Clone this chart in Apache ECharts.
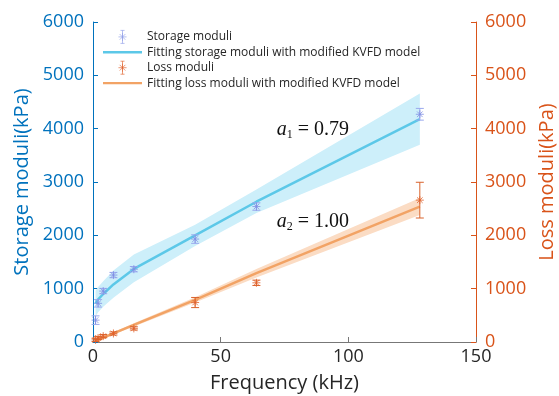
<!DOCTYPE html>
<html>
<head>
<meta charset="utf-8">
<script src="https://cdn.jsdelivr.net/npm/echarts@6/dist/echarts.min.js"></script>
<style>
  html, body { margin: 0; padding: 0; background: #fff; }
  #chart { width: 559px; height: 396px; }
</style>
</head>
<body>
<div id="chart"></div>
<script>
// measured frequencies (kHz)
const freq = [1, 2, 4, 8, 16, 40, 64, 128]
const storage = [410, 725, 955, 1255, 1365, 1930, 2540, 4270]
const storageErr = [80, 70, 50, 50, 50, 80, 70, 110]
const loss = [40, 75, 110, 160, 255, 740, 1110, 2660]
const lossErr = [30, 30, 30, 30, 30, 95, 50, 335]

// fitted curves with confidence bands
const storageFit = [725, 800, 900, 1080, 1370, 2000, 2630, 4180]
const storageUpper = [960, 1030, 1140, 1340, 1640, 2200, 2860, 4660]
const storageLower = [480, 560, 660, 830, 1120, 1800, 2420, 3700]
const lossFit = [20, 40, 80, 160, 320, 790, 1290, 2540]
const lossUpper = [40, 60, 100, 185, 350, 840, 1370, 2700]
const lossLower = [5, 20, 60, 140, 290, 740, 1210, 2380]

const xTicks = [0, 50, 100, 150]
const yTicks = [0, 1000, 2000, 3000, 4000, 5000, 6000]

const BLUE = '#0072BD'
const ORANGE = '#D95319'
const FONT = '"Open Sans", "Noto Sans", sans-serif'
const STAR = 'path://M0,5L10,5M5,0L5,10M1.5,1.5L8.5,8.5M8.5,1.5L1.5,8.5'
const STAR_BAR = 'path://M0,5L10,5M5,0L5,10M1.5,1.5L8.5,8.5M8.5,1.5L1.5,8.5M5,-3L5,13M2.5,-3L7.5,-3M2.5,13L7.5,13'
const LINE_ICON = 'path://M0,0L40,0L40,2.5L0,2.5Z'

const pairs = (xs, ys) => xs.map((x, i) => [x, ys[i]])

const bandSeries = (upper, lower, color, yAxisIndex) => ({
  type: 'custom',
  yAxisIndex,
  silent: true,
  z: 1,
  data: freq.map((f, i) => [f, lower[i], upper[i]]),
  renderItem: (params, api) => {
    if (params.dataIndex !== 0) return
    const top = freq.map((f, i) => api.coord([f, upper[i]]))
    const bottom = freq.map((f, i) => api.coord([f, lower[i]])).reverse()
    return {
      type: 'polygon',
      shape: { points: top.concat(bottom) },
      style: { fill: color }
    }
  }
})

const errorSeries = (vals, errs, color, yAxisIndex) => ({
  type: 'custom',
  yAxisIndex,
  silent: true,
  z: 4,
  data: freq.map((f, i) => [f, vals[i] - errs[i], vals[i] + errs[i]]),
  renderItem: (params, api) => {
    const lo = api.coord([api.value(0), api.value(1)])
    const hi = api.coord([api.value(0), api.value(2)])
    const w = 4
    const style = { stroke: color, lineWidth: 1 }
    return {
      type: 'group',
      children: [
        { type: 'line', shape: { x1: lo[0], y1: lo[1], x2: hi[0], y2: hi[1] }, style },
        { type: 'line', shape: { x1: lo[0] - w, y1: lo[1], x2: lo[0] + w, y2: lo[1] }, style },
        { type: 'line', shape: { x1: hi[0] - w, y1: hi[1], x2: hi[0] + w, y2: hi[1] }, style }
      ]
    }
  }
})

const chart = echarts.init(document.getElementById('chart'))

const option = {
  animation: false,
  textStyle: { fontFamily: FONT },
  grid: { left: 93, right: 83, top: 22, bottom: 54, outerBoundsMode: 'none' },
  legend: {
    orient: 'vertical',
    left: 98,
    top: 25,
    itemWidth: 39,
    itemHeight: 13,
    itemGap: 2.5,
    itemTextGap: 5,
    textStyle: { fontSize: 12, color: '#262626', fontFamily: FONT },
    data: [
      {
        name: 'Storage moduli',
        icon: STAR_BAR,
        itemStyle: { color: '#8E9CE8', borderColor: '#8E9CE8', borderWidth: 0.8 }
      },
      { name: 'Fitting storage moduli with modified KVFD model', icon: LINE_ICON },
      {
        name: 'Loss moduli',
        icon: STAR_BAR,
        itemStyle: { color: '#E0602A', borderColor: '#E0602A', borderWidth: 0.8 }
      },
      { name: 'Fitting loss moduli with modified KVFD model', icon: LINE_ICON }
    ]
  },
  xAxis: {
    type: 'value',
    min: xTicks[0],
    max: xTicks[xTicks.length - 1],
    interval: 50,
    name: 'Frequency (kHz)',
    nameLocation: 'middle',
    nameGap: 31,
    nameTextStyle: { fontSize: 20, color: '#262626' },
    axisLine: { lineStyle: { color: '#777', width: 1 } },
    axisTick: { inside: true, length: 5, lineStyle: { color: '#777' } },
    axisLabel: { fontSize: 18, color: '#262626', margin: 6 },
    splitLine: { show: false }
  },
  yAxis: [
    {
      type: 'value',
      min: yTicks[0],
      max: yTicks[yTicks.length - 1],
      interval: 1000,
      name: 'Storage moduli(kPa)',
      nameLocation: 'middle',
      nameGap: 53,
      nameTextStyle: { fontSize: 20, color: BLUE },
      axisLine: { show: true, lineStyle: { color: BLUE } },
      axisTick: { show: true, inside: true, length: 5, lineStyle: { color: BLUE } },
      axisLabel: { fontSize: 18, color: BLUE, margin: 9, formatter: v => String(v) },
      splitLine: { show: false }
    },
    {
      type: 'value',
      position: 'right',
      min: yTicks[0],
      max: yTicks[yTicks.length - 1],
      interval: 1000,
      name: 'Loss moduli(kPa)',
      nameLocation: 'middle',
      nameRotate: 90,
      nameGap: 56,
      nameTextStyle: { fontSize: 20, color: ORANGE },
      axisLine: { show: true, lineStyle: { color: ORANGE } },
      axisTick: { show: true, inside: true, length: 5, lineStyle: { color: ORANGE } },
      axisLabel: { fontSize: 18, color: ORANGE, margin: 9, formatter: v => String(v) },
      splitLine: { show: false }
    }
  ],
  series: [
    bandSeries(storageUpper, storageLower, '#CDEFFA', 0),
    bandSeries(lossUpper, lossLower, '#FBDCC4', 1),
    {
      name: 'Fitting storage moduli with modified KVFD model',
      type: 'line',
      yAxisIndex: 0,
      data: pairs(freq, storageFit),
      symbol: 'none',
      z: 3,
      lineStyle: { color: '#5CC8E8', width: 2.5 },
      itemStyle: { color: '#5CC8E8' }
    },
    {
      name: 'Fitting loss moduli with modified KVFD model',
      type: 'line',
      yAxisIndex: 1,
      data: pairs(freq, lossFit),
      symbol: 'none',
      z: 3,
      lineStyle: { color: '#F2A365', width: 2.5 },
      itemStyle: { color: '#F2A365' }
    },
    errorSeries(storage, storageErr, '#9AA8EE', 0),
    errorSeries(loss, lossErr, '#D9622B', 1),
    {
      name: 'Storage moduli',
      type: 'scatter',
      yAxisIndex: 0,
      data: pairs(freq, storage),
      symbol: STAR,
      symbolSize: 8,
      z: 5,
      itemStyle: { color: '#7F8FE3', borderColor: '#7F8FE3', borderWidth: 1 }
    },
    {
      name: 'Loss moduli',
      type: 'scatter',
      yAxisIndex: 1,
      data: pairs(freq, loss),
      symbol: STAR,
      symbolSize: 8,
      z: 5,
      itemStyle: { color: '#E0602A', borderColor: '#E0602A', borderWidth: 1 }
    }
  ]
}

chart.setOption(option)

// fractional-order annotations, anchored in data coordinates
const annot = (x, y, sub, val) => {
  const p = chart.convertToPixel({ xAxisIndex: 0, yAxisIndex: 0 }, [x, y])
  return {
    type: 'text',
    x: p[0],
    y: p[1],
    style: {
      text: '{a|a}{s|' + sub + '}{t| = ' + val + '}',
      verticalAlign: 'middle',
      rich: {
        a: { fontFamily: '"Liberation Serif", serif', fontStyle: 'italic', fontSize: 20, fill: '#111' },
        s: { fontFamily: '"Liberation Serif", serif', fontSize: 12, fill: '#111', padding: [10, 0, 0, 0] },
        t: { fontFamily: '"Liberation Serif", serif', fontSize: 20, fill: '#111' }
      }
    }
  }
}

chart.setOption({
  graphic: [
    annot(72, 3975, '1', '0.79'),
    annot(72, 2250, '2', '1.00')
  ]
})
</script>
</body>
</html>
